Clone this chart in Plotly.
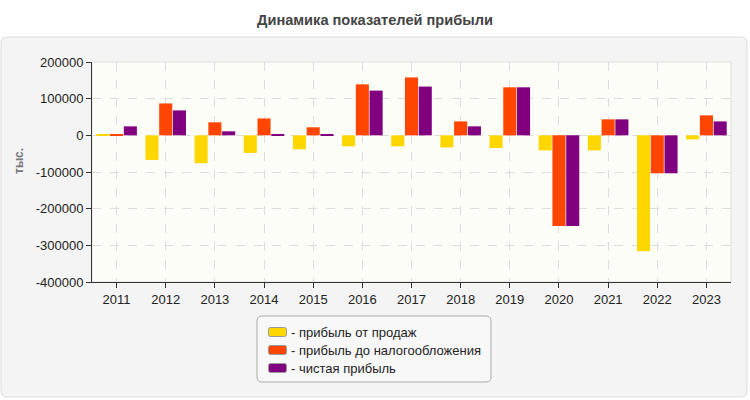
import plotly.graph_objects as go

years = ["2011", "2012", "2013", "2014", "2015", "2016", "2017", "2018", "2019", "2020", "2021", "2022", "2023"]
sales_profit = [3000, -67000, -76000, -48000, -38000, -30000, -30000, -33000, -34500, -41000, -41000, -316000, -11000]
pretax_profit = [3000, 87000, 35500, 46000, 22000, 139000, 158000, 38000, 131000, -247000, 43600, -103500, 54500]
net_profit = [24500, 68000, 11000, 3500, 3500, 122000, 133000, 24500, 131000, -247000, 43600, -103500, 38000]

names = ["прибыль от продаж", "прибыль до налогообложения", "чистая прибыль"]
colors = ["#FFD700", "#FF4500", "#800080"]

W, H = 750, 400
L, R, T, B = 92, 19, 62, 118
pw, ph = W - L - R, H - T - B

fig = go.Figure()
for name, vals, c in zip(names, [sales_profit, pretax_profit, net_profit], colors):
    fig.add_trace(go.Bar(x=years, y=vals, name=name, showlegend=False,
                         marker=dict(color=c, line=dict(width=0))))

def px2x(p):
    return (p - L) / pw

def py2y(p):
    return 1 - (p - T) / ph

def rounded(x0, y0, x1, y1, r):
    return (f"M {px2x(x0 + r)},{py2y(y0)} L {px2x(x1 - r)},{py2y(y0)} "
            f"Q {px2x(x1)},{py2y(y0)} {px2x(x1)},{py2y(y0 + r)} "
            f"L {px2x(x1)},{py2y(y1 - r)} Q {px2x(x1)},{py2y(y1)} {px2x(x1 - r)},{py2y(y1)} "
            f"L {px2x(x0 + r)},{py2y(y1)} Q {px2x(x0)},{py2y(y1)} {px2x(x0)},{py2y(y1 - r)} "
            f"L {px2x(x0)},{py2y(y0 + r)} Q {px2x(x0)},{py2y(y0)} {px2x(x0 + r)},{py2y(y0)} Z")

# outer panel
fig.add_shape(type="path", path=rounded(1, 37, 747, 397, 6), xref="paper", yref="paper",
              fillcolor="#f4f4f4", line=dict(color="#dddddd", width=1), layer="below")
# plot area background
fig.add_shape(type="rect", xref="paper", yref="paper", x0=0, x1=1, y0=0, y1=1,
              fillcolor="#fdfdf7", line=dict(color="#dddddd", width=1), layer="below")

# legend box
fig.add_shape(type="path", path=rounded(257, 316, 491, 382, 5), xref="paper", yref="paper",
              fillcolor="#f8f8f8", line=dict(color="#aaaaaa", width=1), layer="above")
for i, (name, c) in enumerate(zip(names, colors)):
    cy = 332 + 18 * i
    fig.add_shape(type="path", path=rounded(268.5, cy - 4.5, 286.5, cy + 4.5, 2),
                  xref="paper", yref="paper", fillcolor=c,
                  line=dict(color="#999999", width=1), layer="above")
    fig.add_annotation(text="- " + name, xref="paper", yref="paper",
                       x=px2x(289), y=py2y(cy), xanchor="left", yanchor="middle",
                       showarrow=False, font=dict(size=13, color="#222222"))

# y-axis title
fig.add_annotation(text="<b>тыс.</b>", xref="paper", yref="paper", x=px2x(19), y=py2y(161),
                   xanchor="center", yanchor="middle", textangle=-90, showarrow=False,
                   font=dict(size=12, color="#777777"))

fig.update_layout(
    width=W, height=H,
    margin=dict(l=L, r=R, t=T, b=B, autoexpand=False),
    paper_bgcolor="white",
    plot_bgcolor="rgba(0,0,0,0)",
    font=dict(family="Liberation Sans, Arial, sans-serif", size=12, color="#222222"),
    title=dict(text="<b>Динамика показателей прибыли</b>", x=0.5, xref="container", xanchor="center",
               y=1 - 20 / H, yref="container", yanchor="middle",
               font=dict(size=14.6, color="#444444")),
    barmode="group",
    bargap=0.16,
    bargroupgap=0.05,
    showlegend=False,
    xaxis=dict(
        type="category", tickangle=0,
        showgrid=True, gridcolor="#dddddd", griddash="dash", gridwidth=1,
        showline=True, linecolor="#333333", linewidth=1,
        ticks="outside", ticklen=5, tickcolor="#333333",
        tickfont=dict(size=13, color="#222222"),
        zeroline=False,
    ),
    yaxis=dict(
        range=[-400000, 200000],
        tickvals=[-400000, -300000, -200000, -100000, 0, 100000, 200000],
        ticktext=["-400000", "-300000", "-200000", "-100000", "0", "100000", "200000"],
        showgrid=True, gridcolor="#dddddd", griddash="dash", gridwidth=1,
        showline=True, linecolor="#333333", linewidth=1,
        ticks="outside", ticklen=5, tickcolor="#333333",
        tickfont=dict(size=13, color="#222222"),
        zeroline=False,
    ),
)

fig.write_html("out.html")
